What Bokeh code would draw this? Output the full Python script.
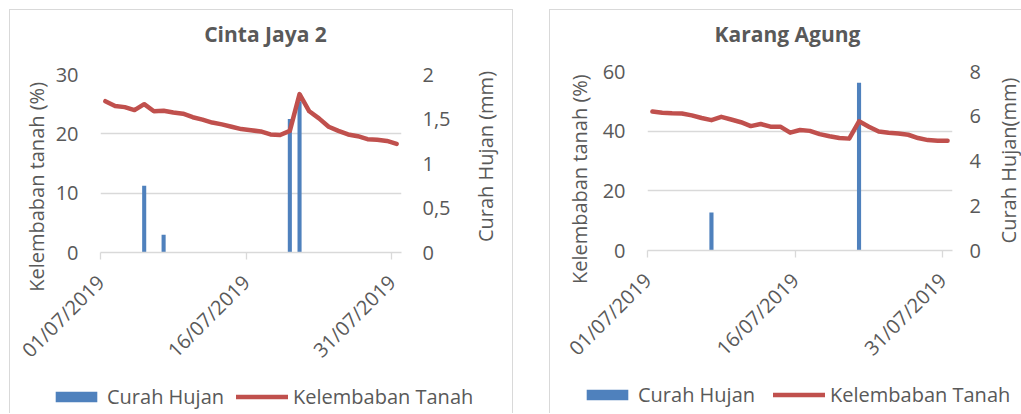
import math
from bokeh.plotting import figure
from bokeh.models import (Range1d, LinearAxis, FixedTicker, CustomJSTickFormatter,
                          Legend, LegendItem, Label, Spacer)
from bokeh.layouts import row, column
from bokeh.embed import file_html
from bokeh.resources import INLINE

# ---------------- data ----------------
dates = [f"{d:02d}/07/2019" for d in range(1, 32)]
days = list(range(len(dates)))

cj_title = "Cinta Jaya 2"
cj_moist = [25.5, 24.7, 24.5, 24.0, 25.0, 23.8, 23.9, 23.6, 23.4, 22.8, 22.4,
            21.9, 21.6, 21.2, 20.8, 20.6, 20.4, 19.9, 19.8, 20.5, 26.7, 23.8,
            22.6, 21.2, 20.5, 19.9, 19.6, 19.1, 19.0, 18.8, 18.3]
cj_rain = [0, 0, 0, 0, 0.75, 0, 0.2, 0, 0, 0, 0, 0, 0, 0, 0, 0, 0, 0, 0, 1.5,
           1.7, 0, 0, 0, 0, 0, 0, 0, 0, 0, 0]
cj_moist_ticks = [0, 10, 20, 30]
cj_rain_ticks = [0, 0.5, 1, 1.5, 2]
cj_rain_label = "Curah Hujan (mm)"

ka_title = "Karang Agung"
ka_moist = [46.6, 46.2, 46.0, 45.9, 45.3, 44.4, 43.7, 44.8, 43.9, 43.0, 41.7,
            42.4, 41.5, 41.5, 39.5, 40.4, 40.1, 39.0, 38.3, 37.7, 37.5, 43.3,
            41.5, 39.9, 39.5, 39.2, 38.8, 37.7, 37.0, 36.8, 36.8]
ka_rain = [0, 0, 0, 0, 0, 0, 1.7, 0, 0, 0, 0, 0, 0, 0, 0, 0, 0, 0, 0, 0, 0,
           7.5, 0, 0, 0, 0, 0, 0, 0, 0, 0]
ka_moist_ticks = [0, 20, 40, 60]
ka_rain_ticks = [0, 2, 4, 6, 8]
ka_rain_label = "Curah Hujan(mm)"

moist_label = "Kelembaban tanah (%)"
x_tick_days = [0, 15, 30]
legend_labels = ["Curah Hujan", "Kelembaban Tanah"]

BLUE = "#4F81BD"
RED = "#C0504D"
TXT = "#595959"
GRID = "#D9D9D9"
FONT = "Open Sans"
BORDER = "1px solid #D9D9D9"


def borders(sides):
    return {f"border-{s}": BORDER for s in sides}


def blank_fig(width, height, xr=(0, 1)):
    p = figure(width=width, height=height, output_backend="svg",
               toolbar_location=None, x_range=Range1d(*xr),
               y_range=Range1d(0, 1), x_axis_location=None,
               y_axis_location=None, min_border=0, frame_align=False)
    p.outline_line_color = None
    p.grid.visible = False
    return p


def text_fig(text, width, height, tx, ty, sides, size="20px", bold=False,
             angle=0.0):
    p = blank_fig(width, height)
    p.add_layout(Label(x=tx, y=ty, x_units="screen", y_units="screen",
                       text=text, text_font=FONT, text_font_size=size,
                       text_font_style="bold" if bold else "normal",
                       text_color=TXT, text_align="center",
                       text_baseline="middle", angle=angle))
    p.styles = borders(sides)
    return p


def legend_fig(rain, moist, width, height, loc, spacing, sides):
    # far-away x range: only the legend swatches are visible here
    p = blank_fig(width, height, xr=(-100, -99))
    bars = p.vbar(x=days, top=rain, width=0.42, fill_color=BLUE, line_color=None)
    line = p.line(x=days, y=moist, line_color=RED, line_width=4.5,
                  line_join="round", line_cap="round")
    legend = Legend(items=[LegendItem(label=legend_labels[0], renderers=[bars]),
                           LegendItem(label=legend_labels[1], renderers=[line])],
                    orientation="horizontal", location=loc,
                    glyph_width=52, glyph_height=13, label_standoff=5,
                    spacing=spacing, padding=0, margin=0,
                    border_line_color=None, background_fill_alpha=0,
                    label_text_font=FONT, label_text_font_size="20px",
                    label_text_color=TXT)
    p.add_layout(legend)
    p.styles = borders(sides)
    return p


def chart(moist, rain, mticks, rticks, width, height, bl, br, bt, bb,
          rain_std, lt_standoff, lt_pad, sides):
    p = figure(width=width, height=height, output_backend="svg",
               toolbar_location=None,
               x_range=Range1d(-0.5, len(days) - 0.5),
               y_range=Range1d(mticks[0], mticks[-1]),
               min_border_left=bl, min_border_right=br,
               min_border_top=bt, min_border_bottom=bb)
    p.outline_line_color = None
    p.extra_y_ranges = {"rain": Range1d(rticks[0], rticks[-1])}

    xa = p.xaxis[0]
    xa.ticker = FixedTicker(ticks=[d - 0.5 for d in x_tick_days])
    xa.formatter = CustomJSTickFormatter(
        args=dict(labels=dates),
        code="return labels[Math.round(tick + 0.5)] || '';")
    xa.major_label_orientation = math.pi / 4
    xa.axis_line_color = GRID
    xa.axis_line_width = 1.3
    xa.major_tick_line_color = GRID
    xa.major_tick_line_width = 1.3
    xa.major_tick_out = 7
    xa.major_tick_in = 0
    xa.minor_tick_line_color = None
    xa.major_label_standoff = 19
    xa.major_label_text_font = FONT
    xa.major_label_text_font_size = "20px"
    xa.major_label_text_color = TXT

    ya = p.yaxis[0]
    ya.ticker = FixedTicker(ticks=mticks)
    ya.axis_line_color = None
    ya.major_tick_line_color = None
    ya.minor_tick_line_color = None
    ya.major_tick_out = 0
    ya.major_label_standoff = 22
    ya.major_label_text_font = FONT
    ya.major_label_text_font_size = "20px"
    ya.major_label_text_color = TXT
    # trailing no-break spaces move the centred title down like the original
    ya.axis_label = moist_label + "\u00a0" * lt_pad
    ya.axis_label_standoff = lt_standoff
    ya.axis_label_text_font = FONT
    ya.axis_label_text_font_size = "20px"
    ya.axis_label_text_font_style = "normal"
    ya.axis_label_text_color = TXT

    ra = LinearAxis(y_range_name="rain", ticker=FixedTicker(ticks=rticks),
                    formatter=CustomJSTickFormatter(
                        code="return String(tick).replace('.', ',');"))
    ra.axis_line_color = None
    ra.major_tick_line_color = None
    ra.minor_tick_line_color = None
    ra.major_tick_out = 0
    ra.major_label_standoff = rain_std
    ra.major_label_text_font = FONT
    ra.major_label_text_font_size = "20px"
    ra.major_label_text_color = TXT
    p.add_layout(ra, "right")

    p.xgrid.visible = False
    p.ygrid.grid_line_color = GRID
    p.ygrid.grid_line_width = 1.3
    p.ygrid.ticker = FixedTicker(ticks=mticks)

    p.vbar(x=days, top=rain, width=0.42, bottom=0, y_range_name="rain",
           fill_color=BLUE, line_color=None)
    p.line(x=days, y=moist, line_color=RED, line_width=4.5,
           line_join="round", line_cap="round")
    p.styles = borders(sides)
    return p


HALF_PI = math.pi / 2
HEAD_H = 46
MID_H = 324
LEG_H = 34

# ---- left card (page x 9..513) ----
h1 = text_fig(cj_title, 504, HEAD_H, 255, 23, ["left", "top", "right"],
              size="21px", bold=True)
c1 = chart(cj_moist, cj_rain, cj_moist_ticks, cj_rain_ticks,
           453, MID_H, 90, 62, 19, 127, 21, 3, 9, ["left"])
rt1 = text_fig(cj_rain_label, 51, MID_H, 23, 223, ["right"], angle=HALF_PI)
l1 = legend_fig(cj_rain, cj_moist, 504, LEG_H, (40, 3), 12, ["left", "right"])
card1 = column(h1, row(c1, rt1), l1)

# ---- right card (page x 549..1021) ----
h2 = text_fig(ka_title, 472, HEAD_H, 237, 23, ["left", "top"],
              size="21px", bold=True)
c2 = chart(ka_moist, ka_rain, ka_moist_ticks, ka_rain_ticks,
           445, MID_H, 97, 43, 16, 129, 17, 7, 7, ["left"])
rt2 = text_fig(ka_rain_label, 27, MID_H, 14, 219, [], angle=HALF_PI)
l2 = legend_fig(ka_rain, ka_moist, 472, LEG_H, (31, 5), 18, ["left"])
card2 = column(h2, row(c2, rt2), l2)

layout = column(Spacer(height=9),
                row(Spacer(width=9), card1, Spacer(width=36), card2))
open("out.html", "w").write(file_html(layout, INLINE))
